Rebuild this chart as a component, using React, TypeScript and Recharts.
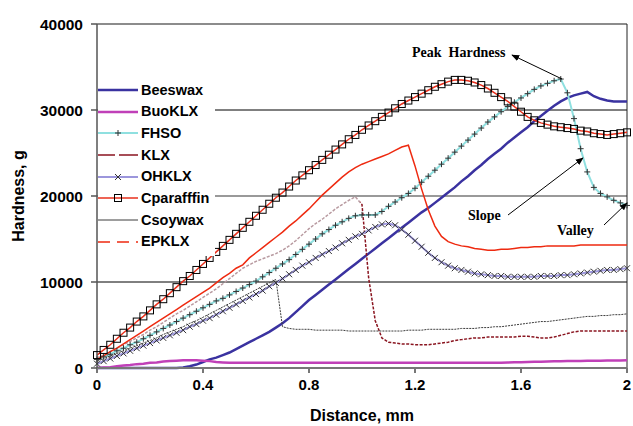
import { Line, LineChart, ReferenceLine, XAxis, YAxis } from 'recharts'

// distance, mm (shared x grid)
const distance = [
  0, 0.025, 0.05, 0.075, 0.1, 0.125, 0.15, 0.175, 0.2, 0.225,
  0.25, 0.275, 0.3, 0.325, 0.35, 0.375, 0.4, 0.425, 0.45, 0.475,
  0.5, 0.525, 0.55, 0.575, 0.6, 0.625, 0.65, 0.675, 0.7, 0.725,
  0.75, 0.775, 0.8, 0.825, 0.85, 0.875, 0.9, 0.925, 0.95, 0.975,
  1.0, 1.025, 1.05, 1.075, 1.1, 1.125, 1.15, 1.175, 1.2, 1.225,
  1.25, 1.275, 1.3, 1.325, 1.35, 1.375, 1.4, 1.425, 1.45, 1.475,
  1.5, 1.525, 1.55, 1.575, 1.6, 1.625, 1.65, 1.675, 1.7, 1.725,
  1.75, 1.775, 1.8, 1.825, 1.85, 1.875, 1.9, 1.925, 1.95, 1.975,
  2.0,
]

// hardness, g
const beeswax = [
  0, 0, 0, 0, 0, 0, 0, 0, 0, 0,
  0, 0, 0, 50, 200, 400, 700, 1000, 1200, 1500,
  1800, 2200, 2600, 3000, 3400, 3800, 4200, 4700, 5200, 5800,
  6500, 7200, 7900, 8500, 9100, 9700, 10300, 10900, 11500, 12100,
  12700, 13300, 13900, 14500, 15100, 15700, 16300, 16900, 17500, 18100,
  18600, 19200, 19800, 20400, 21000, 21700, 22300, 23000, 23600, 24300,
  24900, 25500, 26200, 26800, 27400, 28000, 28700, 29300, 29900, 30500,
  31000, 31400, 31700, 31900, 32100, 31600, 31300, 31100, 31000, 31000,
  31000,
]
const buoklx = [
  0, 50, 100, 200, 300, 350, 450, 500, 600, 650,
  750, 800, 850, 900, 900, 900, 850, 800, 700, 650,
  600, 600, 600, 600, 600, 600, 600, 600, 600, 600,
  600, 600, 600, 600, 600, 600, 600, 600, 600, 600,
  600, 600, 600, 600, 600, 600, 600, 600, 600, 600,
  600, 600, 600, 600, 600, 600, 600, 600, 600, 600,
  600, 620, 640, 660, 680, 700, 720, 740, 760, 780,
  790, 800, 810, 820, 830, 840, 850, 860, 870, 880,
  900,
]
const fhso = [
  1000, 1300, 1600, 2000, 2300, 2700, 3000, 3400, 3800, 4200,
  4600, 5000, 5400, 5800, 6200, 6600, 7000, 7400, 7800, 8100,
  8500, 8900, 9300, 9700, 10100, 10600, 11100, 11600, 12100, 12600,
  13200, 13800, 14400, 15000, 15600, 16100, 16600, 17000, 17400, 17700,
  17800, 17800, 17800, 18200, 18800, 19300, 19800, 20300, 20900, 21600,
  22300, 23000, 23700, 24400, 25100, 25800, 26500, 27200, 27900, 28600,
  29200, 29800, 30400, 30900, 31400, 31900, 32400, 32800, 33100, 33400,
  33600, 32000, 29000, 25500, 22800, 21000, 20300, 19900, 19500, 19200,
  18900,
]
const klx = [
  1200, 1500, 1900, 2300, 2700, 3100, 3500, 3900, 4400, 4800,
  5300, 5800, 6300, 6700, 7200, 7700, 8200, 8700, 9200, 9800,
  10400, 11000, 11600, 12000, 12400, 12700, 13000, 13300, 13700, 14200,
  14800, 15500, 16200, 16800, 17300, 17900, 18500, 19000, 19500, 19900,
  19000, 10500, 5500, 3500, 3000, 2900, 2800, 2800, 2700, 2700,
  2700, 2800, 2900, 3000, 3200, 3300, 3400, 3500, 3500, 3600,
  3600, 3600, 3600, 3600, 3700, 3700, 3600, 3500, 3500, 3600,
  3800, 4000, 4200, 4300, 4300, 4300, 4300, 4300, 4300, 4300,
  4300,
]
const ohklx = [
  500, 800, 1100, 1400, 1700, 2000, 2300, 2600, 2900, 3200,
  3500, 3800, 4100, 4400, 4800, 5100, 5500, 5800, 6200, 6600,
  7000, 7400, 7800, 8200, 8600, 9000, 9500, 9900, 10400, 10900,
  11400, 11900, 12300, 12800, 13200, 13600, 14000, 14500, 14900, 15300,
  15600, 16000, 16400, 16700, 16800, 16600, 16100, 15500, 14800, 14100,
  13400, 12800, 12300, 11900, 11600, 11400, 11200, 11000, 10900, 10800,
  10700, 10700, 10600, 10600, 10600, 10600, 10600, 10700, 10700, 10700,
  10800, 10800, 10900, 11000, 11100, 11200, 11300, 11400, 11400, 11500,
  11600,
]
const cparaffin = [
  1500, 2100, 2700, 3400, 4100, 4700, 5400, 6000, 6700, 7400,
  8000, 8700, 9400, 10100, 10700, 11400, 12100, 12800, 13500, 14200,
  14900, 15600, 16300, 17000, 17700, 18400, 19100, 19800, 20400, 21100,
  21800, 22400, 23000, 23600, 24200, 24800, 25400, 26000, 26600, 27100,
  27700, 28200, 28700, 29200, 29700, 30200, 30700, 31100, 31500, 31900,
  32300, 32700, 33000, 33300, 33500, 33500, 33400, 33200, 32900, 32500,
  32000, 31500, 31000, 30400, 29800, 29200, 28800, 28500, 28300, 28100,
  28000, 27900, 27800, 27600, 27500, 27300, 27200, 27100, 27200, 27300,
  27400,
]
const csoywax = [
  800, 1100, 1400, 1700, 2000, 2300, 2600, 2900, 3200, 3500,
  3900, 4200, 4500, 4800, 5200, 5500, 5900, 6300, 6700, 7100,
  7500, 7900, 8300, 8700, 9100, 9500, 9900, 10300, 4800, 4600,
  4500, 4500, 4500, 4400, 4400, 4400, 4400, 4400, 4300, 4300,
  4300, 4300, 4300, 4300, 4300, 4300, 4300, 4400, 4400, 4400,
  4500, 4500, 4500, 4500, 4500, 4600, 4600, 4600, 4700, 4700,
  4800, 4800, 4900, 5000, 5100, 5200, 5300, 5400, 5400, 5500,
  5600, 5700, 5800, 5900, 6000, 6000, 6100, 6100, 6200, 6200,
  6300,
]
const epklx = [
  1000, 1400, 1900, 2300, 2800, 3300, 3800, 4300, 4800, 5300,
  5800, 6300, 6800, 7300, 7800, 8300, 8800, 9300, 9900, 10500,
  11000, 11600, 12000, 12800, 13400, 14000, 14600, 15200, 15800, 16500,
  17100, 17800, 18500, 19300, 20100, 20800, 21500, 22200, 22800, 23300,
  23700, 24000, 24300, 24600, 24900, 25300, 25700, 25900, 23500, 20800,
  18400, 16500, 15300, 14700, 14400, 14200, 14100, 13900, 13800, 13700,
  13700, 13800, 13800, 13900, 14000, 14000, 14100, 14100, 14200, 14200,
  14200, 14200, 14200, 14300, 14300, 14300, 14300, 14300, 14300, 14300,
  14300,
]

const xTicks = [0, 0.4, 0.8, 1.2, 1.6, 2]
const yTicks = [0, 10000, 20000, 30000, 40000]

const rows = distance.map((d, i) => ({
  d,
  beeswax: beeswax[i],
  buoklx: buoklx[i],
  fhso: fhso[i],
  klx: klx[i],
  ohklx: ohklx[i],
  cparaffin: cparaffin[i],
  csoywax: csoywax[i],
  epklx: epklx[i],
}))

type Marker = 'plus' | 'cross' | 'square' | 'none'

const series: {
  key: string
  name: string
  color: string
  stroke?: string
  width: number
  dash?: string
  legendDash?: string
  marker: Marker
}[] = [
  { key: 'beeswax', name: 'Beeswax', color: '#3a32a0', width: 2.5, marker: 'none' },
  { key: 'buoklx', name: 'BuoKLX', color: '#c040b8', width: 2.5, marker: 'none' },
  { key: 'fhso', name: 'FHSO', color: '#8fe0e0', width: 2, marker: 'plus' },
  // light dotted before the break, dark red after it
  { key: 'klx', name: 'KLX', color: '#8a1520', stroke: 'url(#klxFade)', width: 1.5, dash: '3 1.5', legendDash: '17 4 19', marker: 'none' },
  { key: 'ohklx', name: 'OHKLX', color: '#9c96dc', width: 2, marker: 'cross' },
  { key: 'cparaffin', name: 'Cparafffin', color: '#e8301c', width: 1.5, marker: 'square' },
  { key: 'csoywax', name: 'Csoywax', color: '#3c3c3c', width: 1, dash: '2 1', marker: 'none' },
  { key: 'epklx', name: 'EPKLX', color: '#ee2a10', width: 1.5, legendDash: '12 7', marker: 'none' },
]

function markerShape(m: Marker, cx: number, cy: number, key: string) {
  if (m === 'plus')
    return <path key={key} d={`M${cx - 3},${cy}h6M${cx},${cy - 3}v6`} stroke="#333" strokeWidth={1} fill="none" />
  if (m === 'cross')
    return <path key={key} d={`M${cx - 3},${cy - 3}l6,6M${cx - 3},${cy + 3}l6,-6`} stroke="#333" strokeWidth={1} fill="none" />
  if (m === 'square')
    return <rect key={key} x={cx - 3.5} y={cy - 3.5} width={7} height={7} stroke="#000" strokeWidth={1} fill="none" />
  return <g key={key} />
}

const font = '"Liberation Sans", Arial, sans-serif'
const serif = '"Liberation Serif", "Times New Roman", serif'

function LegendBox() {
  return (
    <div
      style={{
        position: 'absolute',
        left: 98,
        top: 76,
        width: 117,
        padding: '3px 0',
        background: '#fff',
        fontFamily: font,
        fontWeight: 'bold',
        fontSize: 14.5,
      }}
    >
      {series.map((s) => (
        <div key={s.key} style={{ display: 'flex', alignItems: 'center', height: 21.7 }}>
          <svg width={43} height={12} style={{ display: 'block' }}>
            <line x1={0} y1={6} x2={40} y2={6} stroke={s.color} strokeWidth={s.width} strokeDasharray={s.legendDash} />
            {markerShape(s.marker, 20, 6, 'm')}
          </svg>
          <span style={{ lineHeight: 1 }}>{s.name}</span>
        </div>
      ))}
    </div>
  )
}

function Notes() {
  return (
    <svg width={633} height={426} style={{ position: 'absolute', left: 0, top: 0, pointerEvents: 'none' }}>
      <defs>
        <marker id="ah" viewBox="0 0 10 10" refX="9" refY="5" markerWidth="8" markerHeight="8" orient="auto-start-reverse">
          <path d="M0,1 L10,5 L0,9 z" fill="#000" />
        </marker>
        <linearGradient id="klxFade" x1="0" y1="0" x2="1" y2="0">
          <stop offset="0" stopColor="#b89aa0" />
          <stop offset="0.496" stopColor="#b89aa0" />
          <stop offset="0.496" stopColor="#8a1520" />
          <stop offset="1" stopColor="#8a1520" />
        </linearGradient>
      </defs>
      <g fontFamily={serif} fontWeight="bold" fontSize={14} fill="#000">
        <text x={412} y={57}>{'Peak\u00a0 Hardness'}</text>
        <text x={468} y={220}>Slope</text>
        <text x={557} y={235}>Valley</text>
      </g>
      <line x1={562} y1={79} x2={512} y2={55} stroke="#000" strokeWidth={1} markerEnd="url(#ah)" />
      <line x1={508} y1={215} x2={583} y2={158} stroke="#000" strokeWidth={1} markerEnd="url(#ah)" />
      <line x1={604} y1={225} x2={627} y2={203} stroke="#000" strokeWidth={1} markerEnd="url(#ah)" />
    </svg>
  )
}

export default function App() {
  return (
    <div style={{ position: 'absolute', left: 0, top: 0, width: 633, height: 426, background: '#fff' }}>
      <LineChart width={633} height={426} data={rows} margin={{ top: 24, right: 6, bottom: 0, left: 0 }}>
        <XAxis
          dataKey="d"
          type="number"
          domain={[0, 2]}
          ticks={xTicks}
          tickFormatter={(v) => String(v)}
          height={58}
          stroke="#777"
          strokeWidth={2}
          tickSize={5}
          tickMargin={6}
          tick={{ fill: '#000', fontFamily: font, fontWeight: 'bold', fontSize: 15 }}
          label={{
            value: 'Distance, mm',
            position: 'insideBottom',
            offset: 5,
            style: { fill: '#000', fontFamily: font, fontWeight: 'bold', fontSize: 16 },
          }}
        />
        <YAxis
          type="number"
          domain={[0, 40000]}
          ticks={yTicks}
          width={97}
          stroke="#555"
          strokeWidth={1.5}
          tickSize={6}
          tickMargin={8}
          tick={{ fill: '#000', fontFamily: font, fontWeight: 'bold', fontSize: 15.5 }}
          label={{
            value: 'Hardness, g',
            angle: -90,
            position: 'insideLeft',
            offset: 18,
            style: { textAnchor: 'middle', fill: '#000', fontFamily: font, fontWeight: 'bold', fontSize: 16 },
          }}
        />
        <ReferenceLine y={10000} stroke="#000" strokeWidth={1} />
        <ReferenceLine y={20000} stroke="#777" strokeWidth={1.5} />
        <ReferenceLine y={30000} stroke="#000" strokeWidth={1} />
        <ReferenceLine y={40000} stroke="#666" strokeWidth={1.5} />
        <ReferenceLine x={2} stroke="#222" strokeWidth={1} />
        {series.map((s) => (
          <Line
            key={s.key}
            dataKey={s.key}
            name={s.name}
            type="linear"
            stroke={s.stroke ?? s.color}
            strokeWidth={s.width}
            strokeDasharray={s.dash}
            isAnimationActive={false}
            dot={
              s.marker === 'none'
                ? false
                : (p: any) => markerShape(s.marker, p.cx, p.cy, `${s.key}-${p.index}`)
            }
            activeDot={false}
          />
        ))}
      </LineChart>
      <LegendBox />
      <Notes />
    </div>
  )
}
